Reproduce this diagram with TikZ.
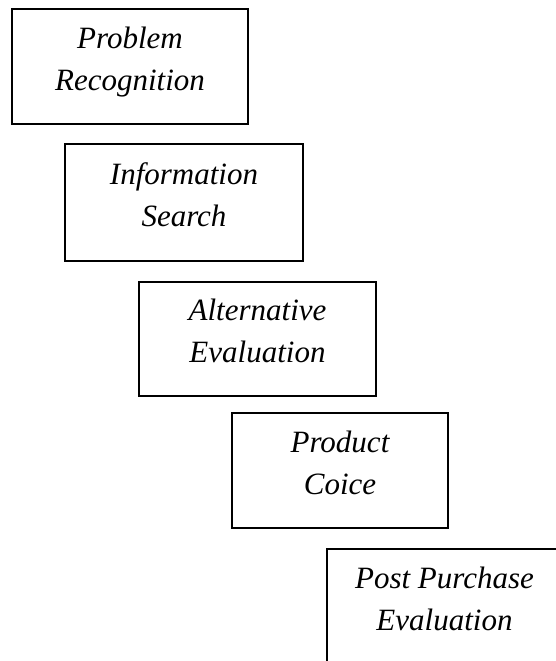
\documentclass[tikz,border=0pt]{standalone}
\usepackage{fontspec}
\setmainfont{Liberation Serif}
\begin{document}
\begin{tikzpicture}[x=1pt,y=-1pt,
  stage/.style={draw=black, line width=1.6pt, rectangle, inner sep=0pt},
  stagetext/.style={font=\fontsize{31}{42}\selectfont\itshape, align=center, inner sep=0pt, yshift=5.9pt}]
\useasboundingbox (0,0) rectangle (555,661);
\node[stage, minimum width=236pt, minimum height=115pt] (b1) at (130,66.5) {};
\node[stagetext] (t1) at (b1.center) {\strut Problem\\\strut Recognition};
\node[stage, minimum width=238pt, minimum height=117pt] (b2) at (184,202.5) {};
\node[stagetext] (t2) at (b2.center) {\strut Information\\\strut Search};
\node[stage, minimum width=237pt, minimum height=114pt] (b3) at (257.5,339) {};
\node[stagetext] (t3) at (b3.center) {\strut Alternative\\\strut Evaluation};
\node[stage, minimum width=216pt, minimum height=115pt] (b4) at (340,470.5) {};
\node[stagetext] (t4) at (b4.center) {\strut Product\\\strut Coice};
\node[stage, minimum width=235pt, minimum height=115pt] (b5) at (444.5,606.5) {};
\node[stagetext] (t5) at (b5.center) {\strut Post Purchase\\\strut Evaluation};
\end{tikzpicture}
\end{document}
